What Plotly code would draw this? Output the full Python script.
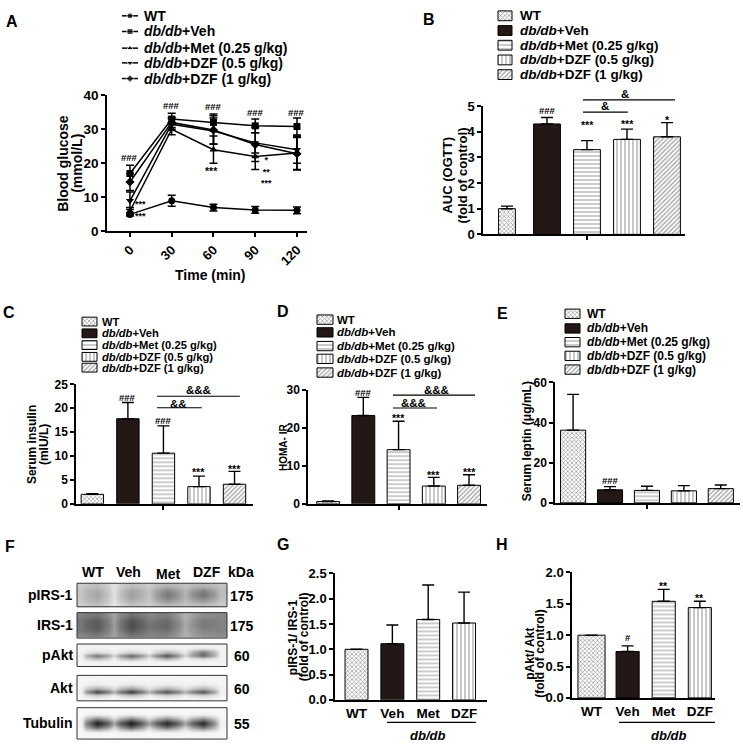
import plotly.graph_objects as go

W, H = 743, 750
FONT = "Liberation Sans, Arial, sans-serif"
INK = "black"
VEH_COLOR = "#231815"

# ---------------- data ----------------
group_labels = ["WT", "<i>db/db</i>+Veh", "<i>db/db</i>+Met (0.25 g/kg)",
                "<i>db/db</i>+DZF (0.5 g/kg)", "<i>db/db</i>+DZF (1 g/kg)"]

# A: OGTT blood glucose (mmol/L)
time_min = [0, 30, 60, 90, 120]
glucose_wt = [5.0, 9.0, 7.0, 6.3, 6.2]
glucose_wt_sd = [0.5, 1.6, 1.0, 1.0, 1.0]
glucose_veh = [17.0, 33.0, 32.0, 31.0, 30.8]
glucose_veh_sd = [2.4, 1.7, 2.5, 2.0, 2.5]
glucose_met = [6.0, 30.0, 24.0, 22.0, 23.0]
glucose_met_sd = [1.0, 1.6, 4.0, 3.8, 4.8]
glucose_dzf05 = [9.0, 31.5, 29.5, 26.0, 24.0]
glucose_dzf05_sd = [2.6, 1.5, 3.8, 3.0, 4.0]
glucose_dzf1 = [14.5, 32.0, 29.8, 25.5, 22.8]
glucose_dzf1_sd = [2.5, 1.5, 4.2, 5.0, 4.8]

# B-E: bar panels (WT, Veh, Met, DZF 0.5, DZF 1)
auc = [1.0, 4.3, 3.3, 3.7, 3.8]
auc_sd = [0.1, 0.25, 0.35, 0.4, 0.55]
insulin = [2.0, 17.8, 10.6, 3.6, 4.1]
insulin_sd = [0.1, 3.4, 5.7, 2.2, 2.7]
homa_ir = [0.6, 23.3, 14.3, 4.7, 4.9]
homa_ir_sd = [0.2, 4.8, 7.5, 2.3, 2.8]
leptin = [36.2, 6.5, 6.2, 6.0, 7.1]
leptin_sd = [17.8, 1.6, 2.1, 2.6, 1.8]

# G-H: western blot quantification
wb_lanes = ["WT", "Veh", "Met", "DZF"]
pirs_ratio = [1.0, 1.11, 1.59, 1.52]
pirs_ratio_sd = [0.0, 0.37, 0.68, 0.61]
pakt_ratio = [1.0, 0.74, 1.54, 1.44]
pakt_ratio_sd = [0.0, 0.09, 0.19, 0.10]

# F: blot densities (0 = white, 1 = black); columns: edge, WT, gap, Veh, gap, Met, gap, DZF, edge
blot_labels = ["pIRS-1", "IRS-1", "pAkt", "Akt", "Tubulin"]
blot_kda = ["175", "175", "60", "60", "55"]
blot_pirs1 = [
    [0.22, 0.28, 0.12, 0.28, 0.22, 0.32, 0.25, 0.32, 0.25],
    [0.25, 0.35, 0.12, 0.38, 0.25, 0.50, 0.30, 0.52, 0.28],
    [0.25, 0.38, 0.12, 0.40, 0.25, 0.58, 0.32, 0.60, 0.28],
    [0.24, 0.34, 0.12, 0.36, 0.24, 0.48, 0.30, 0.46, 0.26],
    [0.20, 0.26, 0.10, 0.26, 0.20, 0.30, 0.24, 0.28, 0.22],
]
blot_irs1 = [
    [0.52, 0.58, 0.38, 0.60, 0.50, 0.55, 0.32, 0.48, 0.50],
    [0.58, 0.68, 0.40, 0.72, 0.55, 0.62, 0.34, 0.55, 0.52],
    [0.58, 0.70, 0.42, 0.75, 0.58, 0.65, 0.36, 0.57, 0.52],
    [0.58, 0.66, 0.40, 0.70, 0.55, 0.60, 0.34, 0.52, 0.52],
    [0.50, 0.55, 0.38, 0.58, 0.50, 0.52, 0.32, 0.46, 0.48],
]
blot_pakt = [
    [0.05, 0.05, 0.05, 0.05, 0.05, 0.05, 0.05, 0.05, 0.05],
    [0.05, 0.06, 0.05, 0.06, 0.05, 0.08, 0.05, 0.12, 0.05],
    [0.05, 0.15, 0.06, 0.18, 0.06, 0.30, 0.08, 0.55, 0.06],
    [0.06, 0.60, 0.18, 0.65, 0.22, 0.75, 0.18, 0.65, 0.06],
    [0.05, 0.30, 0.06, 0.35, 0.06, 0.35, 0.05, 0.15, 0.05],
    [0.05, 0.06, 0.05, 0.06, 0.05, 0.06, 0.05, 0.05, 0.05],
    [0.05, 0.05, 0.05, 0.05, 0.05, 0.05, 0.05, 0.05, 0.05],
]
blot_akt = [
    [0.04, 0.04, 0.04, 0.04, 0.04, 0.04, 0.04, 0.04, 0.04],
    [0.04, 0.05, 0.04, 0.05, 0.04, 0.05, 0.04, 0.05, 0.04],
    [0.04, 0.08, 0.05, 0.10, 0.05, 0.08, 0.05, 0.08, 0.04],
    [0.05, 0.35, 0.12, 0.40, 0.12, 0.32, 0.12, 0.32, 0.05],
    [0.06, 0.85, 0.35, 0.88, 0.35, 0.78, 0.35, 0.78, 0.06],
    [0.04, 0.20, 0.06, 0.25, 0.06, 0.18, 0.06, 0.18, 0.04],
    [0.04, 0.04, 0.04, 0.04, 0.04, 0.04, 0.04, 0.04, 0.04],
]
blot_tubulin = [
    [0.03, 0.03, 0.03, 0.03, 0.03, 0.03, 0.03, 0.03, 0.03],
    [0.03, 0.06, 0.03, 0.06, 0.03, 0.06, 0.03, 0.06, 0.03],
    [0.04, 0.55, 0.15, 0.55, 0.15, 0.50, 0.15, 0.50, 0.04],
    [0.06, 0.97, 0.40, 0.97, 0.40, 0.93, 0.40, 0.93, 0.06],
    [0.04, 0.60, 0.15, 0.62, 0.15, 0.55, 0.15, 0.55, 0.04],
    [0.03, 0.06, 0.03, 0.06, 0.03, 0.06, 0.03, 0.06, 0.03],
    [0.03, 0.03, 0.03, 0.03, 0.03, 0.03, 0.03, 0.03, 0.03],
]
blots = [blot_pirs1, blot_irs1, blot_pakt, blot_akt, blot_tubulin]

# ---------------- styles ----------------
fills = ["white", VEH_COLOR, "white", "white", "white"]
patterns = ["x", "", "-", "|", "/"]
pat_size = [3, 4, 4, 4, 3.2]
pat_solid = [0.45, 0.3, 0.28, 0.3, 0.4]
line_symbols = ["circle", "square", "triangle-up", "triangle-down", "diamond"]

# panel geometry in pixels: (left, right), (top, bottom)
panels = {
    "A": dict(n=2, px=(107, 307), py=(90, 229), xr=(-16.5, 127.2), yr=(0, 40), dt=10),
    "B": dict(n=3, px=(483, 685), py=(101, 232), xr=(-0.6, 4.45), yr=(0, 5), dt=1),
    "C": dict(n=4, px=(76, 253), py=(385, 507), xr=(-0.46, 4.52), yr=(0, 25), dt=5),
    "D": dict(n=5, px=(308, 487), py=(391, 507), xr=(-0.57, 4.51), yr=(0, 30), dt=10),
    "E": dict(n=6, px=(555, 740), py=(383, 506), xr=(-0.49, 4.52), yr=(0, 60), dt=20),
    "G": dict(n=7, px=(335, 487), py=(578, 707), xr=(-0.6, 3.64), yr=(0, 2.5), dt=0.5),
    "H": dict(n=8, px=(572, 715), py=(577, 705), xr=(-0.54, 3.42), yr=(0, 2), dt=0.5),
}


def fx(p):
    return p / W


def fy(p):
    return 1 - p / H


def ypap(key, v):
    p = panels[key]
    top, bot = p["py"]
    r0, r1 = p["yr"]
    return fy(bot - (v - r0) / (r1 - r0) * (bot - top))


def bold(size):
    return dict(family=FONT, size=size, color=INK, weight="bold")


fig = go.Figure()
annotations = []
shapes = []


def note(x, y, text, size=10, xref="paper", yref="paper", angle=0, xanchor="center",
         yanchor="middle", yshift=0, italic=False):
    f = bold(size)
    if italic:
        f["style"] = "italic"
    annotations.append(dict(x=x, y=y, xref=xref, yref=yref, text=text, showarrow=False,
                            font=f, textangle=angle, xanchor=xanchor, yanchor=yanchor,
                            yshift=yshift, borderpad=0))


# ---------------- A: line chart ----------------
glucose_series = [(glucose_wt, glucose_wt_sd), (glucose_veh, glucose_veh_sd),
                  (glucose_met, glucose_met_sd), (glucose_dzf05, glucose_dzf05_sd),
                  (glucose_dzf1, glucose_dzf1_sd)]
for (vals, sd), sym in zip(glucose_series, line_symbols):
    fig.add_trace(go.Scatter(
        x=time_min, y=vals, mode="lines+markers", xaxis="x2", yaxis="y2",
        line=dict(color=INK, width=1.5), marker=dict(symbol=sym, size=7, color=INK),
        error_y=dict(type="data", array=sd, color=INK, thickness=1.5, width=4),
        showlegend=False, cliponaxis=False))


# ---------------- bar panels ----------------
def bar_panel(key, vals, sd, widths, pats=patterns, fl=fills, psize=pat_size, psolid=pat_solid):
    n = panels[key]["n"]
    fig.add_trace(go.Bar(
        x=list(range(len(vals))), y=vals, width=widths, xaxis=f"x{n}", yaxis=f"y{n}",
        marker=dict(color=fl, line=dict(color=INK, width=1),
                    pattern=dict(shape=pats, size=psize, solidity=psolid,
                                 fgcolor=INK, fillmode="overlay")),
        error_y=dict(type="data", symmetric=False, array=sd, arrayminus=[0] * len(sd),
                     color=INK, thickness=1.4, width=6),
        showlegend=False, cliponaxis=False))


bar_panel("B", auc, auc_sd, [0.42, 0.67, 0.67, 0.67, 0.67])
bar_panel("C", insulin, insulin_sd, [0.63] * 5)
bar_panel("D", homa_ir, homa_ir_sd, [0.65] * 5)
bar_panel("E", leptin, leptin_sd, [0.68] * 5)
wb_pats = ["x", "", "-", "|"]
bar_panel("G", pirs_ratio, pirs_ratio_sd, [0.64] * 4, wb_pats, fills[:4], pat_size[:4], pat_solid[:4])
bar_panel("H", pakt_ratio, pakt_ratio_sd, [0.75, 0.64, 0.64, 0.64], wb_pats, fills[:4],
          pat_size[:4], pat_solid[:4])

# ---------------- legends (drawn on hidden pixel axis) ----------------
legend_a_rows = [9, 25, 42, 57, 73]
for r, sym, lab in zip(legend_a_rows, line_symbols, group_labels):
    fig.add_trace(go.Scatter(x=[122, 130, 138], y=[r, r, r], mode="lines+markers",
                             xaxis="x", yaxis="y", line=dict(color=INK, width=1.5),
                             marker=dict(symbol=sym, size=[0, 6, 0], color=INK),
                             showlegend=False, hoverinfo="skip"))
    note(fx(143), fy(r), lab, 14, xanchor="left")


def bar_legend(x0, sw, sh, rows, xt, size):
    fig.add_trace(go.Bar(orientation="h", y=rows, x=[sw] * 5, base=[x0] * 5, width=[sh] * 5,
                         xaxis="x", yaxis="y",
                         marker=dict(color=fills, line=dict(color=INK, width=1),
                                     pattern=dict(shape=patterns, size=pat_size, solidity=pat_solid,
                                                  fgcolor=INK, fillmode="overlay")),
                         showlegend=False, hoverinfo="skip"))
    for r, lab in zip(rows, group_labels):
        note(fx(xt), fy(r), lab, size, xanchor="left")


bar_legend(498, 14, 10, [9, 24, 39, 54, 69], 519, 13.5)
bar_legend(82, 15, 9, [321, 333, 345, 357, 368], 101, 11.2)
bar_legend(317, 16, 9.5, [319, 332, 346, 359, 373], 336, 11.5)
bar_legend(565, 15, 9.5, [313, 328, 342, 356, 370], 586, 12)

# ---------------- F: blots ----------------
blot_boxes = [(588, 612), (618, 644), (650, 673), (682, 708), (715, 747)]
col_edges = [77, 86, 108, 120, 142, 156, 178, 192, 214, 227]
for z, (top, bot), lab, kda in zip(blots, blot_boxes, blot_labels, blot_kda):
    nr = len(z)
    row_edges = [top + (bot - top) * k / nr for k in range(nr + 1)]
    fig.add_trace(go.Heatmap(z=z, x=col_edges, y=row_edges, xaxis="x", yaxis="y",
                             colorscale=[[0, "#ffffff"], [1, "#111111"]], zmin=0, zmax=1,
                             zsmooth="best", showscale=False, hoverinfo="skip"))
    shapes.append(dict(type="rect", xref="x", yref="y", x0=77, x1=227, y0=top, y1=bot,
                       line=dict(color="#333333", width=1)))
    note(fx(74), fy((top + bot) / 2), lab, 14, xanchor="right")
    note(fx(242), fy((top + bot) / 2 + 1), kda, 14)
for lab, xc, yc in zip(wb_lanes + ["kDa"], [93, 128, 168, 207, 241], [577, 577, 579, 577, 577]):
    note(fx(xc), fy(yc), lab, 14)

# ---------------- significance marks ----------------
marks = {
    "A": [("###", 0, 21.6), ("###", 30, 37.1), ("###", 60, 36.6), ("###", 90, 34.9),
          ("###", 120, 34.9), ("***<br>***", 7.4, 6.9), ("***", 58.9, 18.6),
          ("*<br>**<br>***", 97.8, 18.3), ("**", 127.5, 22.3), ("***<br>***", 128.4, 17.5)],
    "B": [("###", 1, 4.81), ("***", 2, 4.35), ("***", 3, 4.39), ("*", 4, 4.54),
          ("&amp;", 2.45, 5.01), ("&amp;", 2.95, 5.45)],
    "C": [("###", 1, 22.3), ("###", 2, 17.4), ("***", 3, 7.2), ("***", 4, 7.8),
          ("&amp;&amp;", 2.41, 20.9), ("&amp;&amp;&amp;", 3.0, 23.8)],
    "D": [("###", 1, 29.5), ("***", 2, 23.3), ("***", 3, 8.3), ("***", 4, 9.1),
          ("&amp;&amp;&amp;", 2.41, 26.6), ("&amp;&amp;&amp;", 3.09, 30.0)],
    "E": [("###", 1, 11.2)],
    "H": [("#", 1, 0.97), ("**", 2, 1.83), ("**", 3, 1.63)],
}
for key, items in marks.items():
    n = panels[key]["n"]
    for txt, x, y in items:
        star = "*" in txt
        if "<br>" in txt:
            size = 9
        elif star:
            size = 10.5
        elif "&" in txt:
            size = 11.5
        else:
            size = 9.5
        note(x, ypap(key, y), txt, size, xref=f"x{n}", yshift=-2.5 if star else 0)

sig_lines = {
    "B": [(1.9, 3.02, 4.76), (1.9, 4.2, 5.24)],
    "C": [(1.82, 3.08, 20.1), (1.82, 4.15, 22.5)],
    "D": [(1.84, 3.09, 25.3), (1.84, 4.17, 28.7)],
}
for key, items in sig_lines.items():
    n = panels[key]["n"]
    for x0, x1, y in items:
        shapes.append(dict(type="line", xref=f"x{n}", yref="paper", x0=x0, x1=x1,
                           y0=ypap(key, y), y1=ypap(key, y), line=dict(color=INK, width=1.2)))

# db/db underlines for G and H
for x0, x1, xt in [(387, 476, 427), (619, 715, 668)]:
    shapes.append(dict(type="line", xref="paper", yref="paper", x0=fx(x0), x1=fx(x1),
                       y0=fy(730), y1=fy(730), line=dict(color=INK, width=1.2)))
    note(fx(xt), fy(743), "db/db", 13, italic=True)

# ---------------- axis titles & panel letters ----------------
for txt, x, y, s in [("Blood glucose", 63, 160, 14), ("(mmol/L)", 77, 160, 14),
                     ("AUC (OGTT)", 448, 172, 13), ("(fold of control)", 463, 172, 13),
                     ("Serum insulin", 32, 447, 12), ("(mIU/L)", 44, 447, 12),
                     ("HOMA- IR", 283, 450, 10), ("Serum leptin (μg/mL)", 527, 443, 12),
                     ("pIRS-1/ IRS-1", 293, 643, 12), ("(fold of control)", 304, 643, 12),
                     ("pAkt/ Akt", 530, 660, 12), ("(fold of control)", 540, 660, 12)]:
    note(fx(x), fy(y), txt, s, angle=-90)
note(fx(210), fy(273), "Time (min)", 14)
for letter, x, y in [("A", 12, 15), ("B", 429, 13), ("C", 9, 312), ("D", 283, 311),
                     ("E", 502, 313), ("F", 10, 550), ("G", 283, 548), ("H", 502, 548)]:
    note(fx(x), fy(y), letter, 16)

# ---------------- layout ----------------
layout = dict(
    width=W, height=H, margin=dict(l=0, r=0, t=0, b=0),
    paper_bgcolor="white", plot_bgcolor="rgba(0,0,0,0)", barmode="overlay",
    font=dict(family=FONT, color=INK), showlegend=False,
    xaxis=dict(domain=[0, 1], range=[0, W], visible=False, fixedrange=True),
    yaxis=dict(domain=[0, 1], range=[H, 0], visible=False, fixedrange=True),
    annotations=annotations, shapes=shapes,
)
axis_common = dict(showline=True, linecolor=INK, linewidth=1.5, showgrid=False, zeroline=False,
                   ticks="outside", ticklen=4, tickwidth=1.5, tickcolor=INK)
for key, p in panels.items():
    n = p["n"]
    xa = dict(axis_common, domain=[fx(p["px"][0]), fx(p["px"][1])], range=list(p["xr"]),
              anchor=f"y{n}")
    ya = dict(axis_common, domain=[fy(p["py"][1]), fy(p["py"][0])], range=list(p["yr"]),
              anchor=f"x{n}", dtick=p["dt"], tickfont=bold(13 if key in "ABGH" else 12))
    if key == "A":
        xa.update(tickvals=time_min, tickangle=-45, tickfont=bold(13))
        ya.update(tickfont=bold(13.5))
    elif key in "GH":
        xa.update(tickvals=[0, 1, 2, 3], ticktext=wb_lanes, ticks="", tickfont=bold(13.5))
        ya.update(tickformat=".1f")
    else:
        xa.update(tickvals=[2], showticklabels=False)
    layout[f"xaxis{n}"] = xa
    layout[f"yaxis{n}"] = ya

fig.update_layout(**layout)
fig.write_html("out.html", config={"displayModeBar": False},
               post_script="document.body.style.margin = '0px';")
